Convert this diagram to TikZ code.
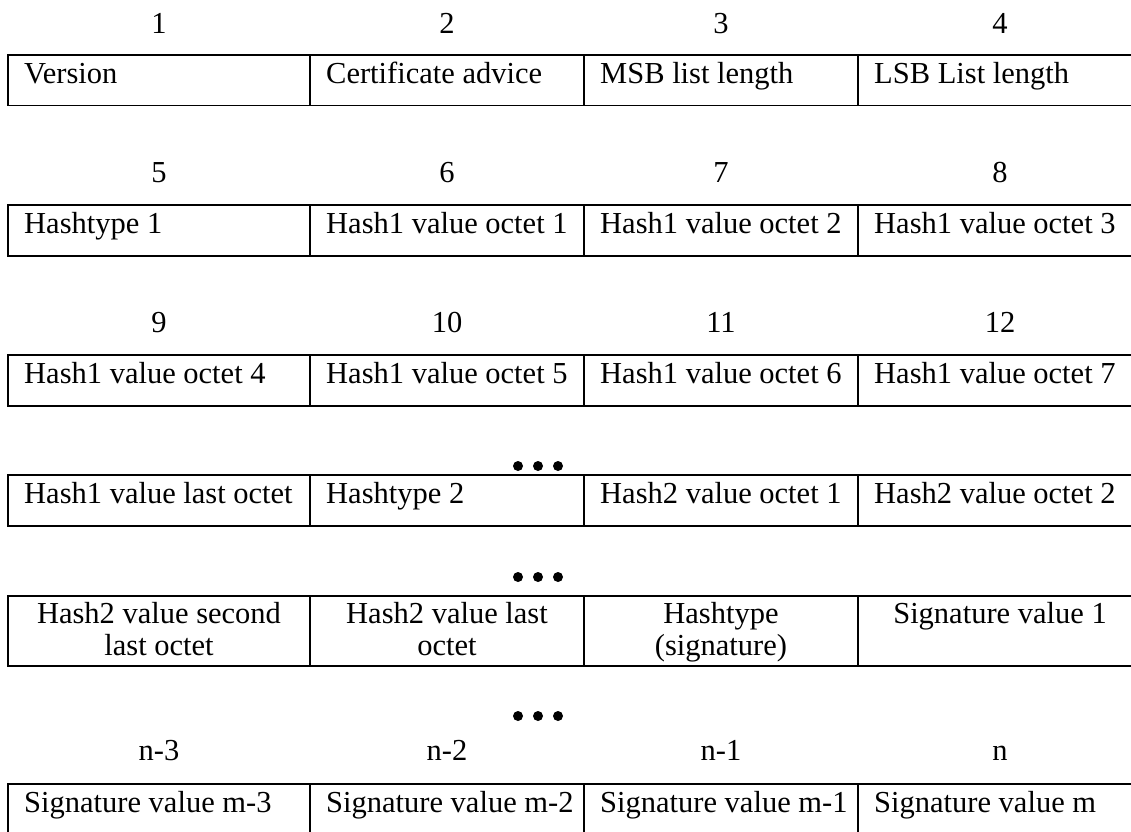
\documentclass[tikz,border=0pt]{standalone}
\usepackage{fontspec}
\setmainfont{Liberation Serif}
\begin{document}
\begin{tikzpicture}[x=1pt,y=-1pt,
  frame/.style={line width=1.8pt,black},
  lbl/.style={inner sep=0pt,anchor=base west,font=\fontsize{30.5}{34}\selectfont},
  ctr/.style={inner sep=0pt,anchor=base,align=center,font=\fontsize{30.5}{32}\selectfont},
  num/.style={inner sep=0pt,anchor=base,font=\fontsize{30.5}{34}\selectfont},
  dot/.style={circle,fill=black,inner sep=0pt,minimum size=10pt}]
\useasboundingbox[fill=white] (0,0) rectangle (1131,831);
% row frames
\foreach \t/\b in {55/105.5,205/256,355/406,475/526,596/666,784/835}{
  \draw[frame] (8,\t) rectangle (1142,\b);
  \foreach \x in {310,584,858} \draw[frame] (\x,\t) -- (\x,\b);
}
% numbers
\node[num] (n1) at (159,33) {1};
\node[num] (n2) at (447,33) {2};
\node[num] (n3) at (721,33) {3};
\node[num] (n4) at (1000,33) {4};
\node[num] (n5) at (159,182) {5};
\node[num] (n6) at (447,182) {6};
\node[num] (n7) at (721,182) {7};
\node[num] (n8) at (1000,182) {8};
\node[num] (n9) at (159,332) {9};
\node[num] (n10) at (447,332) {10};
\node[num] (n11) at (721,332) {11};
\node[num] (n12) at (1000,332) {12};
\node[num] (nn3) at (159,760) {n-3};
\node[num] (nn2) at (447,760) {n-2};
\node[num] (nn1) at (721,760) {n-1};
\node[num] (nn) at (1000,760) {n};
% row 1
\node[lbl] (c1) at (24,83) {Version};
\node[lbl] (c2) at (326,83) {Certificate advice};
\node[lbl] (c3) at (600,83) {MSB list length};
\node[lbl] (c4) at (874,83) {LSB List length};
% row 2
\node[lbl] (c5) at (24,233) {Hashtype 1};
\node[lbl] (c6) at (326,233) {Hash1 value octet 1};
\node[lbl] (c7) at (600,233) {Hash1 value octet 2};
\node[lbl] (c8) at (874,233) {Hash1 value octet 3};
% row 3
\node[lbl] (c9) at (24,383) {Hash1 value octet 4};
\node[lbl] (c10) at (326,383) {Hash1 value octet 5};
\node[lbl] (c11) at (600,383) {Hash1 value octet 6};
\node[lbl] (c12) at (874,383) {Hash1 value octet 7};
% dots 1
\node[dot] (d1a) at (518,466) {};
\node[dot] (d1b) at (538,466) {};
\node[dot] (d1c) at (558,466) {};
% row 4
\node[lbl] (c13) at (24,503) {Hash1 value last octet};
\node[lbl] (c14) at (326,503) {Hashtype 2};
\node[lbl] (c15) at (600,503) {Hash2 value octet 1};
\node[lbl] (c16) at (874,503) {Hash2 value octet 2};
% dots 2
\node[dot] (d2a) at (518,577) {};
\node[dot] (d2b) at (538,577) {};
\node[dot] (d2c) at (558,577) {};
% row 5 (anchor = baseline of last line)
\node[ctr] (c17) at (159,655) {Hash2 value second\\last octet};
\node[ctr] (c18) at (447,655) {Hash2 value last\\octet};
\node[ctr] (c19) at (721,655) {Hashtype\\(signature)};
\node[ctr] (c20) at (1000,623) {Signature value 1};
% dots 3
\node[dot] (d3a) at (518,716) {};
\node[dot] (d3b) at (538,716) {};
\node[dot] (d3c) at (558,716) {};
% row 6
\node[lbl] (c21) at (24,812) {Signature value m-3};
\node[lbl] (c22) at (326,812) {Signature value m-2};
\node[lbl] (c23) at (600,812) {Signature value m-1};
\node[lbl] (c24) at (874,812) {Signature value m};
\end{tikzpicture}
\end{document}
